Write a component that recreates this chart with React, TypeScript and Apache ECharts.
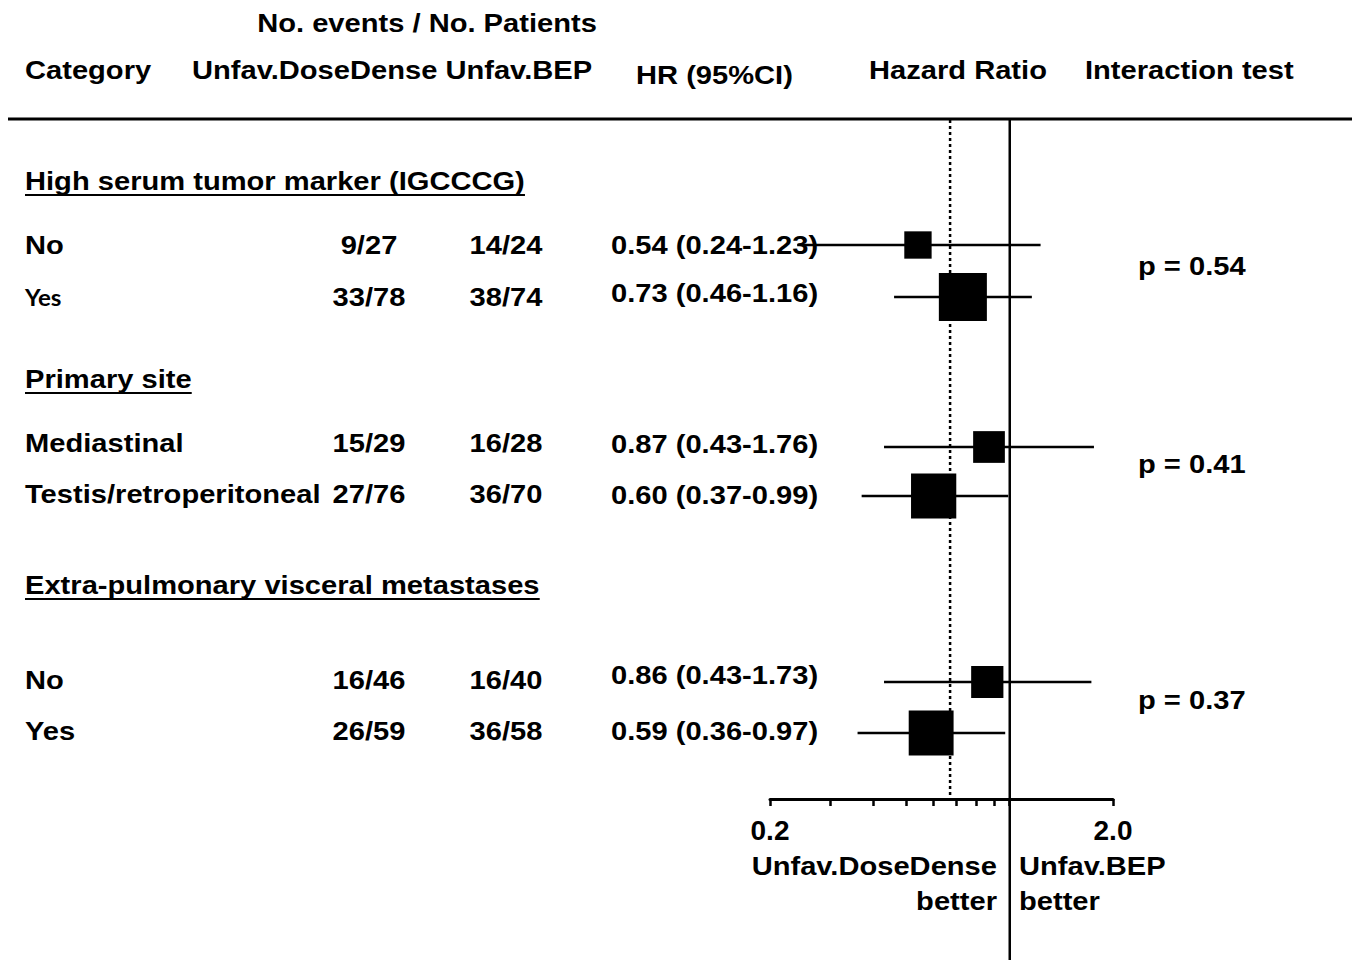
import React, { useEffect, useRef } from "react";
import * as echarts from "echarts";

// ---------- data ----------
const groupTitles = [
  "High serum tumor marker (IGCCCG)",
  "Primary site",
  "Extra-pulmonary visceral metastases",
];
const subgroupLabels = ["No", "Yes", "Mediastinal", "Testis/retroperitoneal", "No", "Yes"];
const ddEvents = [9, 33, 15, 27, 16, 26];
const ddPatients = [27, 78, 29, 76, 46, 59];
const bepEvents = [14, 38, 16, 36, 16, 36];
const bepPatients = [24, 74, 28, 70, 40, 58];
const hr = [0.54, 0.73, 0.87, 0.6, 0.86, 0.59];
const ciLow = [0.24, 0.46, 0.43, 0.37, 0.43, 0.36];
const ciHigh = [1.23, 1.16, 1.76, 0.99, 1.73, 0.97];
const interactionP = ["0.54", "0.41", "0.37"];
const overallHR = 0.67;
const nullHR = 1.0;
const axisTickValues = [0.2, 0.3, 0.4, 0.5, 0.6, 0.7, 0.8, 0.9, 1.0, 2.0];
const axisLabelValues = [0.2, 2.0];

// ---------- layout (pixels) ----------
const W = 1359;
const H = 960;
const GRID_LEFT = 770;
const GRID_RIGHT_X = 1113;
const TOP_Y = 120;
const AXIS_Y = 799;
const rowY = [245, 297, 447, 496, 682, 733];
const rowTextY = [245, 297, 443, 494, 680, 731];
const hrTextY = [245, 293, 444, 495, 675, 731];
const groupY = [181, 379, 585];
const pY = [266, 464, 700];
const FONT = "'Liberation Sans', Arial, Helvetica, sans-serif";
const FS = 26;
const SX = 1.12;
const BOX_K = 5.7;

function measure(text: string, font: string): number {
  const c = document.createElement("canvas");
  const ctx = c.getContext("2d");
  if (!ctx) return text.length * 14;
  ctx.font = font;
  return ctx.measureText(text).width;
}

function txt(text: string, x: number, y: number, align: string = "left", opts: any = {}) {
  return {
    type: "text",
    x,
    y,
    scaleX: opts.scaleX ?? SX,
    z: 10,
    style: {
      text,
      fill: "#000",
      fontFamily: opts.fontFamily ?? FONT,
      fontSize: opts.fontSize ?? FS,
      fontWeight: "bold",
      align,
      verticalAlign: "middle",
    },
  };
}

export default function App() {
  const ref = useRef<HTMLDivElement>(null);

  useEffect(() => {
    if (!ref.current) return;
    const chart = echarts.init(ref.current, null, { renderer: "svg" });

    const graphics: any[] = [];
    // header
    graphics.push(txt("No. events / No. Patients", 427, 23, "center"));
    graphics.push(txt("Category", 25, 70));
    graphics.push(txt("Unfav.DoseDense Unfav.BEP", 192, 70));
    graphics.push(txt("HR (95%CI)", 636, 75));
    graphics.push(txt("Hazard Ratio", 869, 70));
    graphics.push(txt("Interaction test", 1085, 70));
    graphics.push({
      type: "line",
      z: 10,
      shape: { x1: 8, y1: 119, x2: 1352, y2: 119 },
      style: { stroke: "#000", lineWidth: 3 },
    });

    // group titles with underline
    groupTitles.forEach((t, g) => {
      graphics.push(txt(t, 25, groupY[g]));
      const w = measure(t, `bold ${FS}px ${FONT}`) * SX;
      graphics.push({
        type: "line",
        z: 10,
        shape: { x1: 25, y1: groupY[g] + 14, x2: 25 + w, y2: groupY[g] + 14 },
        style: { stroke: "#000", lineWidth: 2 },
      });
    });

    // rows
    subgroupLabels.forEach((lab, i) => {
      if (i === 1) {
        graphics.push(txt(lab, 25, rowTextY[i], "left", { fontFamily: "Lato, sans-serif", fontSize: 23, scaleX: 1.05 }));
      } else {
        graphics.push(txt(lab, 25, rowTextY[i]));
      }
      graphics.push(txt(`${ddEvents[i]}/${ddPatients[i]}`, 369, rowTextY[i], "center"));
      graphics.push(txt(`${bepEvents[i]}/${bepPatients[i]}`, 506, rowTextY[i], "center"));
      graphics.push(
        txt(
          `${hr[i].toFixed(2)} (${ciLow[i].toFixed(2)}-${ciHigh[i].toFixed(2)})`,
          611,
          hrTextY[i]
        )
      );
    });

    interactionP.forEach((p, g) => {
      graphics.push(txt(`p = ${p}`, 1138, pY[g]));
    });

    // favour labels
    graphics.push(txt("Unfav.DoseDense", 997, 866, "right"));
    graphics.push(txt("better", 997, 901, "right"));
    graphics.push(txt("Unfav.BEP", 1019, 866, "left"));
    graphics.push(txt("better", 1019, 901, "left"));

    const forestData = hr.map((v, i) => [
      v,
      ciLow[i],
      ciHigh[i],
      rowY[i],
      BOX_K * Math.sqrt(ddEvents[i] + bepEvents[i]),
    ]);

    chart.setOption({
      animation: false,
      backgroundColor: "#fff",
      grid: {
        left: GRID_LEFT,
        right: W - GRID_RIGHT_X,
        top: TOP_Y,
        bottom: 0,
        containLabel: false,
      },
      xAxis: {
        type: "log",
        logBase: 10,
        min: 0.2,
        max: 2,
        position: "bottom",
        offset: -(H - AXIS_Y),
        axisLine: { show: true, lineStyle: { color: "#000", width: 3 } },
        axisTick: {
          show: true,
          inside: false,
          length: 7,
          customValues: axisTickValues,
          lineStyle: { color: "#000", width: 2.5 },
        },
        axisLabel: {
          show: true,
          customValues: axisLabelValues,
          formatter: (v: number) => Number(v).toFixed(1),
          color: "#000",
          fontFamily: FONT,
          fontWeight: "bold",
          fontSize: 28,
          margin: 17,
        },
        splitLine: { show: false },
        minorTick: { show: false },
      },
      yAxis: {
        type: "value",
        inverse: true,
        min: TOP_Y,
        max: H,
        show: false,
        splitLine: { show: false },
      },
      graphic: { elements: graphics },
      series: [
        {
          type: "line",
          data: [
            [nullHR, TOP_Y],
            [nullHR, H],
          ],
          symbol: "none",
          silent: true,
          lineStyle: { color: "#000", width: 2.5 },
          z: 3,
        },
        {
          type: "line",
          data: [
            [overallHR, TOP_Y],
            [overallHR, AXIS_Y],
          ],
          symbol: "none",
          silent: true,
          lineStyle: { color: "#000", width: 2.5, type: [3, 3] },
          z: 3,
        },
        {
          type: "custom",
          z: 5,
          clip: false,
          encode: { x: [0, 1, 2], y: 3 },
          data: forestData,
          renderItem: (params: any, api: any) => {
            const y = api.value(3);
            const c = api.coord([api.value(0), y]);
            const lo = api.coord([api.value(1), y]);
            const hi = api.coord([api.value(2), y]);
            const s = api.value(4);
            return {
              type: "group",
              children: [
                {
                  type: "line",
                  shape: { x1: lo[0], y1: lo[1], x2: hi[0], y2: hi[1] },
                  style: { stroke: "#000", lineWidth: 2.5 },
                },
                {
                  type: "rect",
                  shape: { x: c[0] - s / 2, y: c[1] - s / 2, width: s, height: s },
                  style: { fill: "#000" },
                },
              ],
            };
          },
        },
      ],
    });

    return () => chart.dispose();
  }, []);

  return (
    <div
      ref={ref}
      style={{ position: "fixed", left: 0, top: 0, width: W, height: H, background: "#fff" }}
    />
  );
}
